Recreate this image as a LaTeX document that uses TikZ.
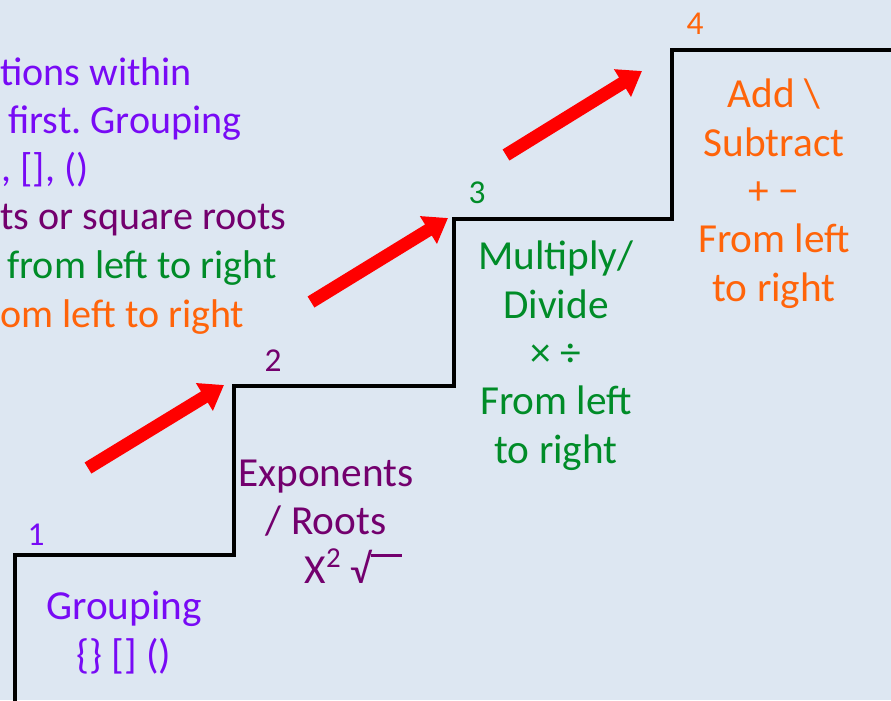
\documentclass[tikz,border=0pt]{standalone}
\usepackage{fontspec}
\setmainfont{Carlito}
\usepackage{tikz}
\usetikzlibrary{arrows.meta,positioning}
\definecolor{bgblue}{RGB}{221,231,242}
\definecolor{groupviolet}{RGB}{120,10,245}
\definecolor{exppurple}{RGB}{115,0,110}
\definecolor{mulgreen}{RGB}{0,140,40}
\definecolor{addorange}{RGB}{255,100,10}
\frenchspacing

\begin{document}
\begin{tikzpicture}[
    x=0.02cm, y=-0.02cm,
    steptext/.style={align=center, inner sep=0pt, anchor=base, font=\fontsize{23.5}{27.5}\selectfont},
    stepnum/.style={inner sep=0pt, anchor=base, font=\fontsize{19}{21}\selectfont},
    intro/.style={inner sep=0pt, anchor=base west, font=\fontsize{22.8}{27.5}\selectfont},
    stairline/.style={line width=2pt, black},
    redarrow/.style={line width=0.26cm, red, -{Triangle[width=0.62cm,length=0.46cm]}},
]
    % Background and frame
    \fill[bgblue] (0,0) rectangle (891,700);
    \useasboundingbox (0,0) rectangle (891,700);
    \clip (0,0) rectangle (891,700);

    % Staircase corners
    \coordinate (s0) at (15,705);
    \coordinate (s1) at (15,555);
    \coordinate (s2) at (234,555);
    \coordinate (s3) at (234,386);
    \coordinate (s4) at (454,386);
    \coordinate (s5) at (454,219);
    \coordinate (s6) at (672,219);
    \coordinate (s7) at (672,50);
    \coordinate (s8) at (895,50);
    \draw[stairline] (s0) -- (s1) -- (s2) -- (s3) -- (s4) -- (s5) -- (s6) -- (s7) -- (s8);

    % Step numbers
    \node[stepnum, text=groupviolet] (num1) at (36,545) {1};
    \node[stepnum, text=exppurple] (num2) at (273,371) {2};
    \node[stepnum, text=mulgreen] (num3) at (477,203) {3};
    \node[stepnum, text=addorange] (num4) at (695,34) {4};

    % Text on each step (anchored at the baseline of the last line)
    \node[steptext, text=groupviolet] (grouping) at (124,668) {Grouping\\\{\} [] ()};
    \node[steptext, text=exppurple] (exponents) at (326,583) {Exponents\\/ Roots\\
        \hspace*{1.1cm}X\textsuperscript{2} √\rule[0.62em]{0.75em}{0.08em}};
    \node[steptext, text=mulgreen] (multiply) at (556,463) {Multiply/\\Divide\\× ÷\\From left\\to right};
    \node[steptext, text=addorange] (add) at (774,301) {Add \textbackslash\\Subtract\\+ −\\From left\\to right};

    % Cut-off lines at top left
    \node[intro, text=groupviolet] (intro1) at (0,85) {tions within};
    \node[intro, text=groupviolet] (intro2) at (8,133) {first. Grouping};
    \node[intro, text=groupviolet] (intro3) at (1,181) {, [], ()};
    \node[intro, text=exppurple] (intro4) at (0,229) {ts or square roots};
    \node[intro, text=mulgreen] (intro5) at (7,278) {from left to right};
    \node[intro, text=addorange] (intro6) at (0,327) {om left to right};

    % Red arrows up the stairs
    \coordinate (a1tail) at (88,468);
    \coordinate (a1tip) at (224,385);
    \coordinate (a2tail) at (311,302);
    \coordinate (a2tip) at (448,218);
    \coordinate (a3tail) at (506,155);
    \coordinate (a3tip) at (642,71);
    \draw[redarrow] (a1tail) -- (a1tip);
    \draw[redarrow] (a2tail) -- (a2tip);
    \draw[redarrow] (a3tail) -- (a3tip);
\end{tikzpicture}
\end{document}
